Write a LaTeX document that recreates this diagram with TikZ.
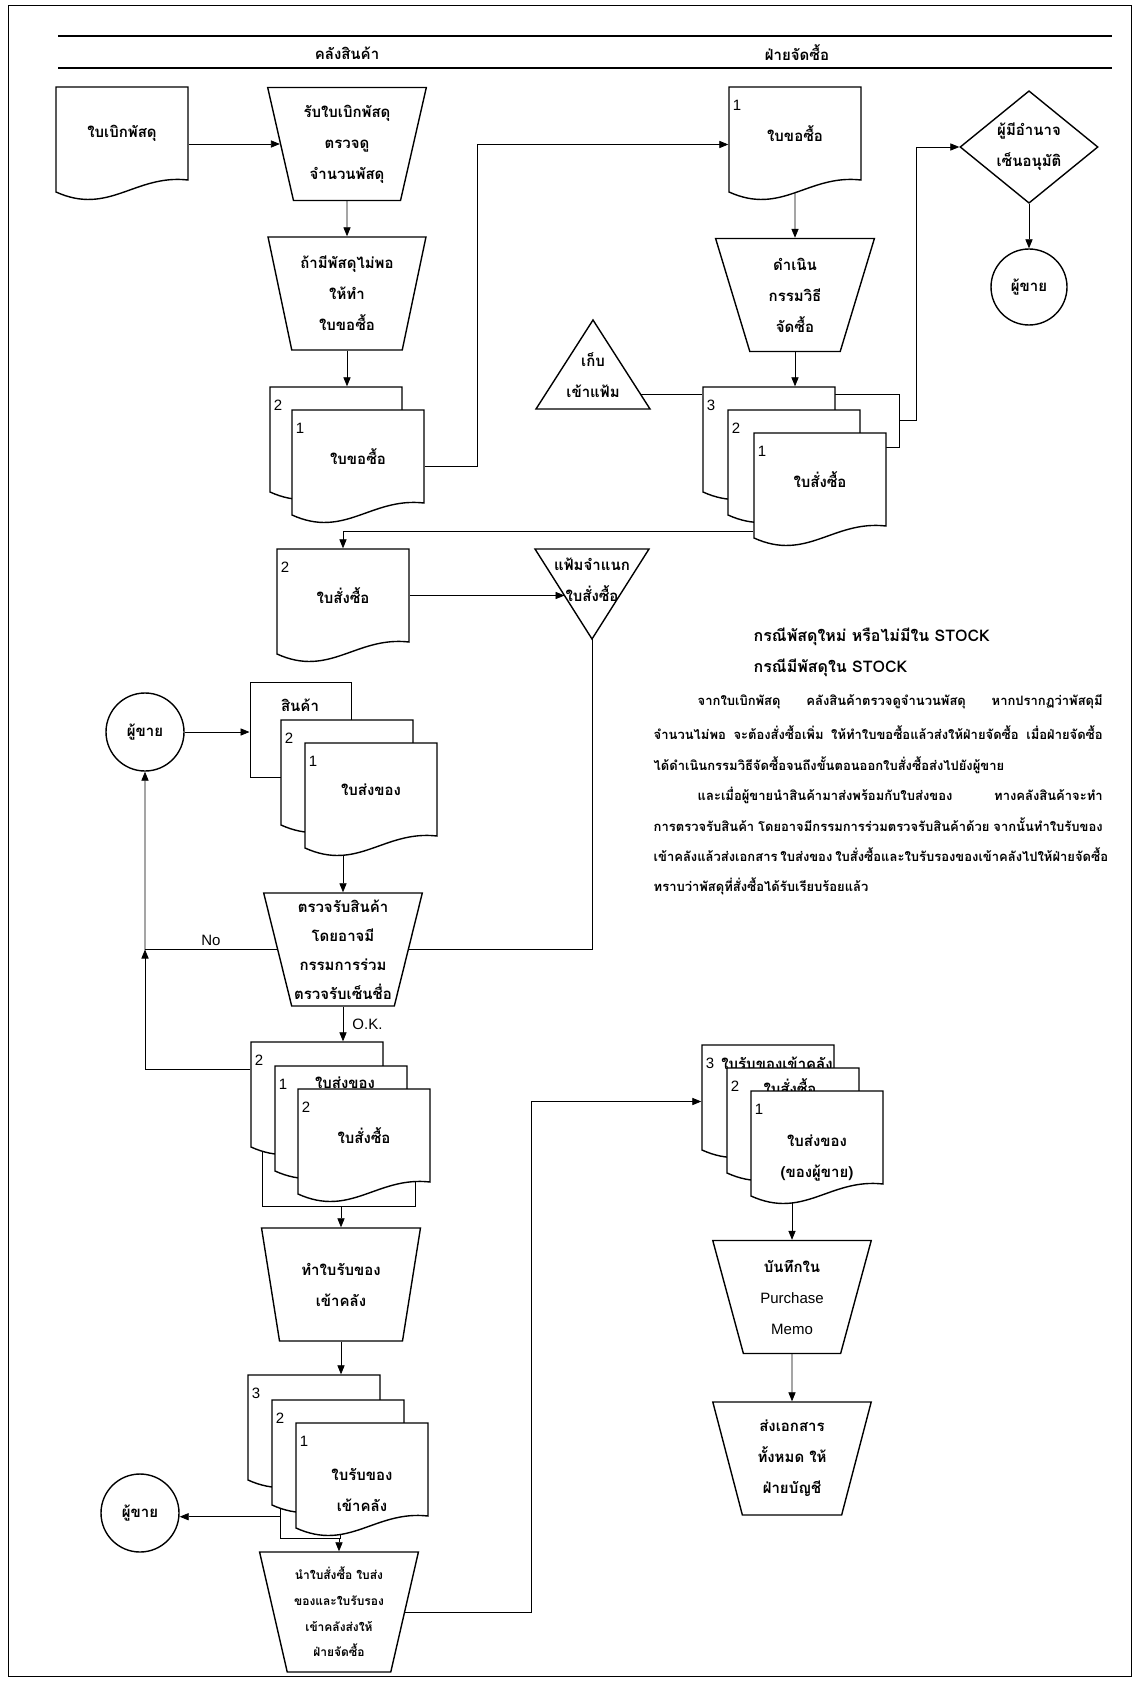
\documentclass[tikz,border=0pt]{standalone}
\usepackage{fontspec}
\setmainfont{Liberation Sans}
\newfontfamily\thaifont[Script=Thai]{Loma}
\usetikzlibrary{shapes.geometric,arrows.meta,calc}
\tikzset{every picture/.style={line width=0.7pt}}
\pgfdeclarelayer{background}
\pgfsetlayers{background,main}

\tikzset{
  lbl/.style={font=\thaifont\bfseries\fontsize{7.5}{15.5}\selectfont, align=center},
  hdr/.style={font=\thaifont\bfseries\fontsize{7.5}{9}\selectfont, inner sep=1pt},
  docbox/.style={lbl, inner sep=0pt, minimum width=66pt, minimum height=46.5pt},
  copyno/.style={font=\fontsize{7.5}{9}\selectfont, inner sep=0pt},
  manual/.style={trapezium, trapezium left angle=105, trapezium right angle=105,
    trapezium stretches=true, draw, fill=white, lbl, inner sep=0pt,
    minimum width=79.5pt, minimum height=56.5pt},
  party/.style={circle, draw, fill=white, lbl, minimum size=39pt, inner sep=0pt},
  bundle/.style={draw, fill=white, inner sep=0pt, line width=0.5pt},
  note/.style={font=\fontsize{7.5}{9}\selectfont, inner sep=1.5pt},
  ttl/.style={font=\thaifont\bfseries\fontsize{8}{10}\selectfont, anchor=west, inner sep=0pt},
  para/.style={font=\thaifont\bfseries\fontsize{6.5}{8}\selectfont, anchor=west, inner sep=0pt},
  arr/.style={-{Triangle[length=4.5pt,width=3.6pt]}},
}

% document symbol: outline, text, copy number
\newcommand{\docnode}[6][]{%
  \draw[fill=white] (#3,#4) -- ++(132,0) -- ++(0,93) .. controls +(-53,-6) and +(53,24) .. ++(-132,12) -- cycle;
  \node[docbox,#1] (#2) at (#3+66,#4+46.5) {#6};
  \node[copyno] (#2-no) at (#3+8,#4+18) {#5};
}

\begin{document}
\begin{tikzpicture}[x=0.5pt,y=0.5pt,yscale=-1,xscale=1]
\useasboundingbox (0,0) rectangle (1139,1690);
\draw[line width=0.5pt] (8,6) rectangle (1131,1676);
\draw[line width=1.2pt] (58,36) -- (1112,36);
\draw[line width=1.2pt] (58,68) -- (1112,68);
\node[hdr] (store) at (347,53) {คลังสินค้า};
\node[hdr] (purch) at (797,53) {ฝ่ายจัดซื้อ};

% requisition
\docnode{reqdoc}{56}{87}{}{ใบเบิกพัสดุ}
\node[manual] (checkreq) at (347,144) {รับใบเบิกพัสดุ\\ตรวจดู\\จำนวนพัสดุ};
\node[manual] (makereq) at (347,293.5) {ถ้ามีพัสดุไม่พอ\\ให้ทำ\\ใบขอซื้อ};
\docnode{reqbk}{270}{387}{2}{}
\docnode{reqf}{292}{410}{1}{ใบขอซื้อ}

% purchasing dept
\docnode{prdoc}{729}{87}{1}{ใบขอซื้อ}
\node[manual] (procure) at (795,295) {ดำเนิน\\กรรมวิธี\\จัดซื้อ};
\node[bundle, minimum width=94.5pt, minimum height=26.5pt] (bundleR) at (804.5,420.5) {};
\docnode{po3}{703}{387}{3}{}
\docnode{po2}{728}{410}{2}{}
\docnode{po1}{754}{433}{1}{ใบสั่งซื้อ}
\node[diamond, draw, fill=white, lbl, inner sep=0pt, minimum width=69pt, minimum height=56pt] (approve) at (1029,147) {ผู้มีอำนาจ\\เซ็นอนุมัติ};
\node[party, minimum size=38pt] (seller1) at (1029,287) {ผู้ขาย};
\draw[fill=white] (593,320) -- (650,409) -- (536,409) -- cycle;
\node[lbl] (fileA) at (593,375) {เก็บ\\เข้าแฟ้ม};

\docnode{podoc}{277}{549}{2}{ใบสั่งซื้อ}
\draw[fill=white] (535,549) -- (649,549) -- (592,639) -- cycle;
\node[lbl] (fileB) at (592,580) {แฟ้มจำแนก\\ใบสั่งซื้อ};

% receiving
\node[party] (seller2) at (145,732) {ผู้ขาย};
\node[bundle, minimum width=50.5pt, minimum height=47.5pt] (goods) at (300.5,729.5) {};
\node[lbl] (goodstxt) at (300,705) {สินค้า};
\docnode{dn2}{281}{720}{2}{}
\docnode{dn1}{305}{743}{1}{ใบส่งของ}
\node[manual, font=\thaifont\bfseries\fontsize{7.5}{14.5}\selectfont] (inspect) at (343,949.5) {ตรวจรับสินค้า\\โดยอาจมี\\กรรมการร่วม\\ตรวจรับเซ็นชื่อ};
\node[bundle, minimum width=76.5pt, minimum height=53pt] (bundleA) at (338.5,1153) {};
\docnode{c2}{251}{1042}{2}{}
\docnode{c1}{275}{1066}{1}{}
\node[lbl] (c1txt) at (345,1083) {ใบส่งของ};
\docnode{c0}{298}{1089}{2}{ใบสั่งซื้อ}
\node[manual] (makerr) at (341,1284.5) {ทำใบรับของ\\เข้าคลัง};
\node[bundle, minimum width=30pt, minimum height=44pt] (bundleB) at (310,1494) {};
\docnode{rc3}{248}{1375}{3}{}
\docnode{rc2}{272}{1400}{2}{}
\docnode{rc1}{296}{1423}{1}{\strut\\ใบรับของ\\เข้าคลัง}
\node[party] (seller3) at (140,1513) {ผู้ขาย};
\node[manual, minimum height=60pt, font=\thaifont\bfseries\fontsize{6}{12.8}\selectfont] (sendpur) at (339,1612) {นำใบสั่งซื้อ ใบส่ง\\ของและใบรับรอง\\เข้าคลังส่งให้\\ฝ่ายจัดซื้อ};

\docnode{rr3}{702}{1045}{3}{}
\node[lbl] (rr3txt) at (777,1063) {ใบรับของเข้าคลัง};
\docnode{rr2}{727}{1068}{2}{}
\node[lbl] (rr2txt) at (790,1087) {ใบสั่งซื้อ};
\docnode{rr1}{751}{1091}{1}{\strut\\ใบส่งของ\\(ของผู้ขาย)}
\node[manual] (memo) at (792,1297) {บันทึกใน\\{\normalfont\mdseries Purchase}\\{\normalfont\mdseries Memo}};
\node[manual] (toacct) at (792,1458.5) {ส่งเอกสาร\\ทั้งหมด ให้\\ฝ่ายบัญชี};

% note
\node[ttl] (case1) at (753,637) {กรณีพัสดุใหม่ หรือไม่มีใน STOCK};
\node[ttl] (case2) at (753,668) {กรณีมีพัสดุใน STOCK};
\node[para] (p1) at (697,702) {\makebox[202.5pt][s]{จากใบเบิกพัสดุ คลังสินค้าตรวจดูจำนวนพัสดุ หากปรากฏว่าพัสดุมี}};
\node[para] (p2) at (653,733) {\makebox[224.5pt][s]{จำนวนไม่พอ จะต้องสั่งซื้อเพิ่ม ให้ทำใบขอซื้อแล้วส่งให้ฝ่ายจัดซื้อ เมื่อฝ่ายจัดซื้อ}};
\node[para] (p3) at (653,765) {ได้ดำเนินกรรมวิธีจัดซื้อจนถึงขั้นตอนออกใบสั่งซื้อส่งไปยังผู้ขาย};
\node[para] (p4) at (697,795) {\makebox[202.5pt][s]{และเมื่อผู้ขายนำสินค้ามาส่งพร้อมกับใบส่งของ ทางคลังสินค้าจะทำ}};
\node[para] (p5) at (653,825) {\makebox[224.5pt][s]{การตรวจรับสินค้า โดยอาจมีกรรมการร่วมตรวจรับสินค้าด้วย จากนั้นทำใบรับของ}};
\node[para] (p6) at (653,855) {\makebox[224.5pt][s]{เข้าคลังแล้วส่งเอกสาร ใบส่งของ ใบสั่งซื้อและใบรับรองของเข้าคลังไปให้ฝ่ายจัดซื้อ}};
\node[para] (p7) at (653,886) {ทราบว่าพัสดุที่สั่งซื้อได้รับเรียบร้อยแล้ว};

% bends
\coordinate (bendA) at (477,0);
\coordinate (bendC) at (531,0);
\coordinate (bendD) at (916,0);
\coordinate (fileAout) at (640,394);
\coordinate (fileBin) at (564.5,595.5);
\coordinate (fileBtip) at (592,639);
\coordinate (noturn) at (145,949.5);
\coordinate (reqout) at ($(reqf.east)+(0,10)$);
\coordinate (prin) at ($(prdoc.west)+(0,11)$);
\coordinate (poout) at ($(po1.south west)+(0,5)$);
\coordinate (chkout) at ($(c2.north west)+(0,28)$);
\coordinate (rrin) at ($(rr3.west)+(0,10)$);

\begin{pgfonlayer}{background}
\draw[arr] (reqdoc.east |- checkreq.west) -- (checkreq.west);
\draw[arr] (checkreq.south) -- (makereq.north);
\draw[arr] (makereq.south) -- (makereq.south |- reqbk.north);
\draw[arr] (reqout) -- (reqout -| bendA) |- (prin);
\draw[arr] (prdoc.south) -- (procure.north);
\draw[arr] (procure.south) -- (procure.south |- po3.north);
\draw (fileAout) -- (fileAout -| po3.west);
\draw[arr] (bundleR.east) -- (bundleR.east -| bendD) |- (approve.west);
\draw[arr] (approve.south) -- (seller1.north);
\draw[arr] (poout) -| (podoc.north);
\draw[arr] (podoc.east) -- (fileBin);
\draw (fileBtip) |- (inspect.east);
\draw[arr] (seller2.east) -- (seller2.east -| goods.west);
\draw[arr] (inspect.north |- dn1.south) -- (inspect.north);
\draw[arr] (inspect.west) -- node[note, above] (nolbl) {No} (noturn) -- (seller2.south);
\draw[arr] (chkout) -| (noturn);
\draw[arr] (inspect.south) -- node[note, right=3pt] (oklbl) {O.K.} (inspect.south |- c2.north);
\draw[arr] (makerr.north |- bundleA.south) -- (makerr.north);
\draw[arr] (makerr.south) -- (makerr.south |- rc3.north);
\draw[arr] (rc1.south west) -- (rc1.south west -| seller3.east);
\draw[arr] (sendpur.north |- bundleB.south) -- (sendpur.north);
\draw[arr] (sendpur.east) -- (sendpur.east -| bendC) |- (rrin);
\draw[arr] (memo.north |- rr1.south) -- (memo.north);
\draw[arr] (memo.south) -- (toacct.north);
\end{pgfonlayer}
\end{tikzpicture}
\end{document}
